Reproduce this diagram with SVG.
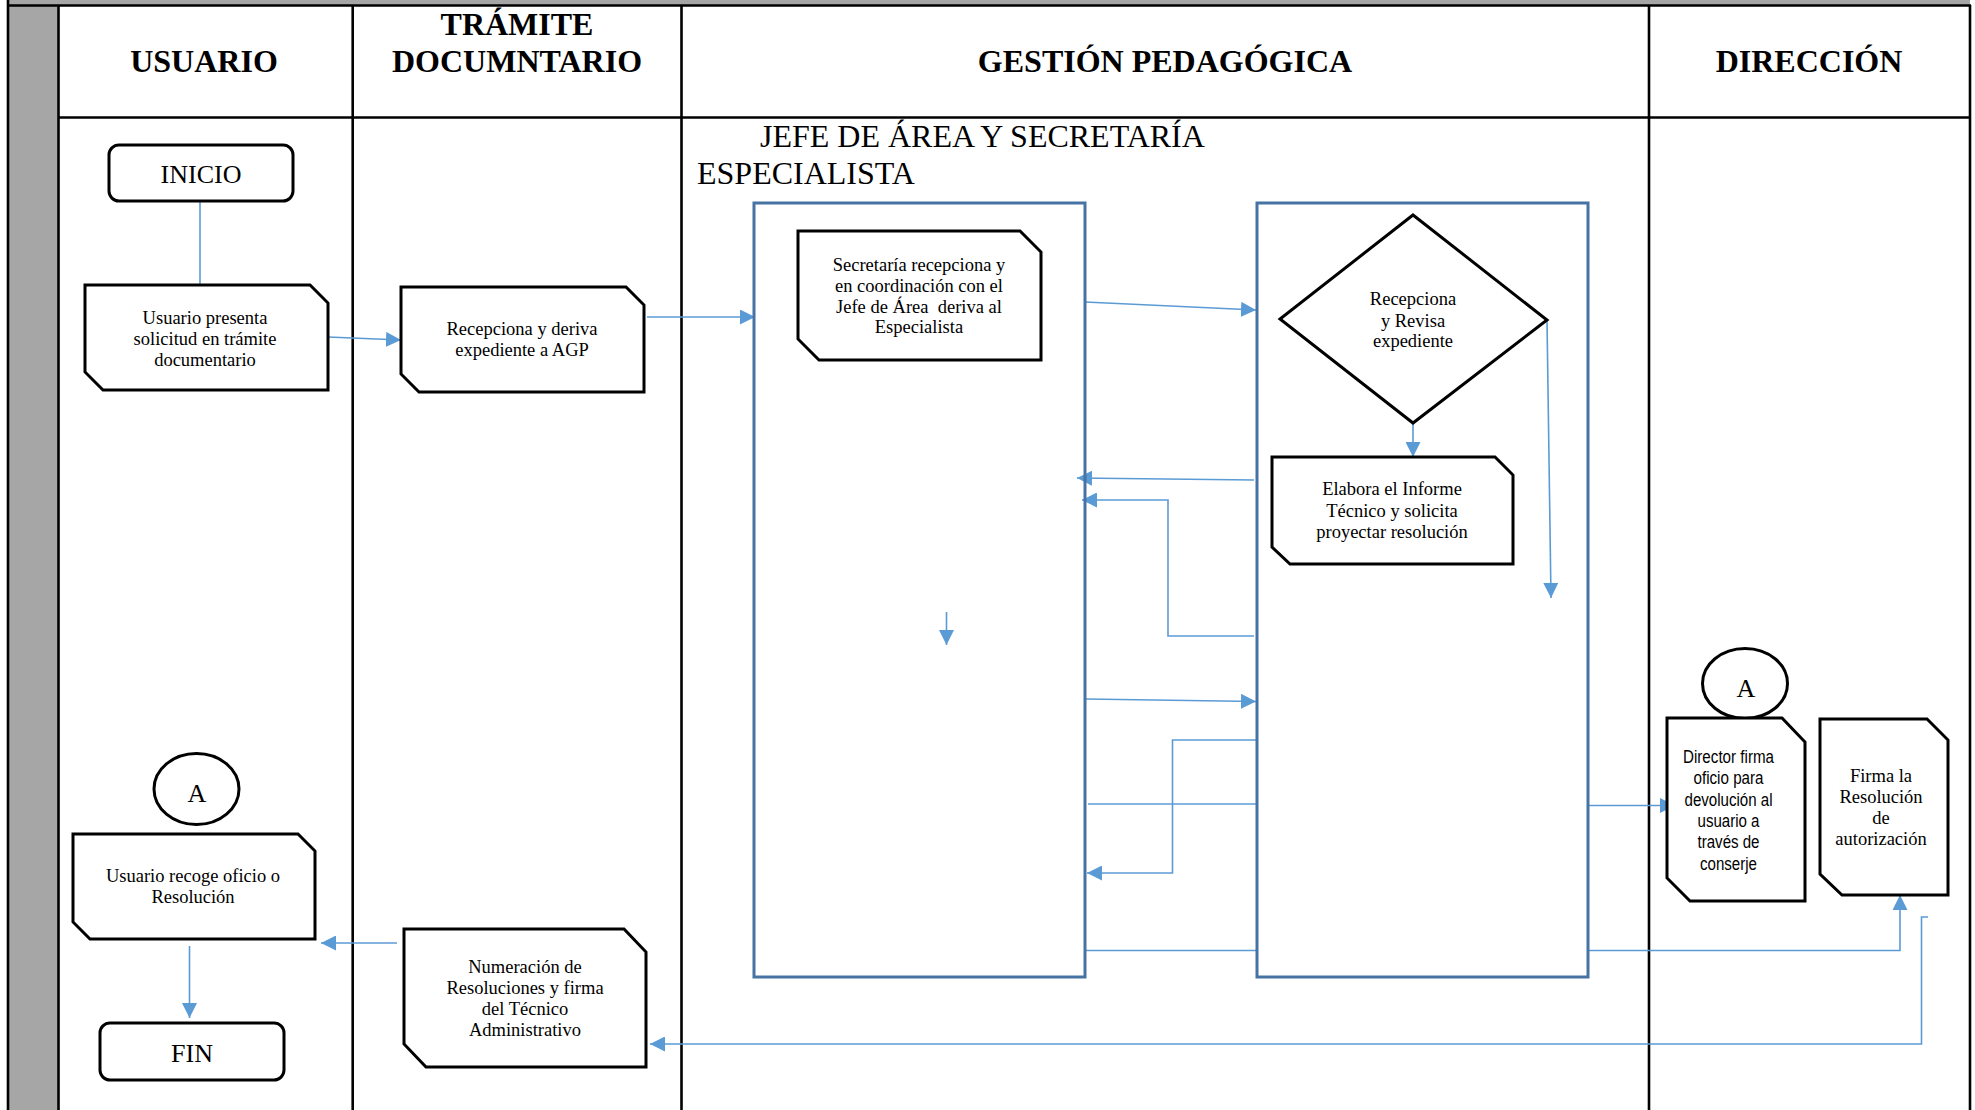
<svg xmlns="http://www.w3.org/2000/svg" width="1975" height="1110" viewBox="0 0 1975 1110">
<style>
.tbl{stroke:#000;stroke-width:2.6;fill:none}
.hd{font-family:"Liberation Serif","Times New Roman",serif;font-weight:bold;font-size:32px;text-anchor:middle;fill:#000}
.sub{font-family:"Liberation Serif","Times New Roman",serif;font-size:32px;fill:#000}
.nd{fill:#fff;stroke:#000;stroke-width:3}
.bx{fill:none;stroke:#4672a4;stroke-width:3}
.t{font-family:"Liberation Serif","Times New Roman",serif;font-size:18.5px;text-anchor:middle;fill:#000}
.tb{font-family:"Liberation Serif","Times New Roman",serif;font-size:26px;text-anchor:middle;fill:#000}
.ts{font-family:"Liberation Sans",Arial,sans-serif;font-size:17.5px;text-anchor:middle;fill:#000}
.c{fill:none;stroke:#5b9bd5;stroke-width:1.6}
</style>
<defs>
<marker id="ah" markerUnits="userSpaceOnUse" markerWidth="15" markerHeight="15" viewBox="0 0 15 15" refX="15" refY="7.5" orient="auto">
<path d="M0,0 L15,7.5 L0,15 z" fill="#5b9bd5"/>
</marker>
</defs>
<rect x="0" y="0" width="1975" height="1110" fill="#fff"/>
<g id="table">
<rect x="8" y="0" width="1962" height="6" fill="#a6a6a6"/>
<rect x="8" y="0" width="50" height="1110" fill="#a6a6a6"/>
<line class="tbl" x1="8" y1="5.5" x2="1971" y2="5.5"/>
<line class="tbl" x1="8" y1="0" x2="8" y2="1110"/>
<line class="tbl" x1="58.5" y1="5" x2="58.5" y2="1110"/>
<line class="tbl" x1="58" y1="117.5" x2="1971" y2="117.5"/>
<line class="tbl" x1="352.7" y1="5" x2="352.7" y2="1110"/>
<line class="tbl" x1="681.5" y1="5" x2="681.5" y2="1110"/>
<line class="tbl" x1="1649" y1="5" x2="1649" y2="1110"/>
<line class="tbl" x1="1970" y1="5" x2="1970" y2="1110"/>
<text class="hd" x="204" y="72">USUARIO</text>
<text class="hd" x="517" y="35">TRÁMITE</text>
<text class="hd" x="517" y="72">DOCUMNTARIO</text>
<text class="hd" x="1165" y="72">GESTIÓN PEDAGÓGICA</text>
<text class="hd" x="1809" y="72">DIRECCIÓN</text>
<text class="sub" x="760" y="147">JEFE DE ÁREA Y SECRETARÍA</text>
<text class="sub" x="697" y="184">ESPECIALISTA</text>
</g>
<g id="connectors">
<path class="c" d="M200,202 V285"/>
<path class="c" d="M328,337 L401,340" marker-end="url(#ah)"/>
<path class="c" d="M647,317 H755" marker-end="url(#ah)"/>
<path class="c" d="M1085,302 L1256,310" marker-end="url(#ah)"/>
<path class="c" d="M1413,423 V457" marker-end="url(#ah)"/>
<path class="c" d="M1547,320 L1551,598" marker-end="url(#ah)"/>
<path class="c" d="M1254,480 L1077,478" marker-end="url(#ah)"/>
<path class="c" d="M1254,636 H1168 V500 H1082" marker-end="url(#ah)"/>
<path class="c" d="M946.5,612 V645" marker-end="url(#ah)"/>
<path class="c" d="M1086,699 L1256,701.5" marker-end="url(#ah)"/>
<path class="c" d="M1256,740 H1172.5 V873 H1087" marker-end="url(#ah)"/>
<path class="c" d="M1088,804 H1256"/>
<path class="c" d="M1588,805.5 H1675" marker-end="url(#ah)"/>
<path class="c" d="M1085,950.5 H1256"/>
<path class="c" d="M1588,950.5 H1900 V895" marker-end="url(#ah)"/>
<path class="c" d="M1928,917 H1921.5 V1044 H650" marker-end="url(#ah)"/>
<path class="c" d="M397,943 H321" marker-end="url(#ah)"/>
<path class="c" d="M189.5,946 V1018" marker-end="url(#ah)"/>
</g>
<g id="box-jefe"><rect class="bx" x="754" y="203" width="331" height="774"/></g>
<g id="box-especialista"><rect class="bx" x="1257" y="203" width="331" height="774"/></g>
<g id="inicio">
<rect class="nd" x="109" y="145" width="184" height="56" rx="10"/>
<text class="tb" x="201" y="183">INICIO</text>
</g>
<g id="usuario-presenta">
<polygon class="nd" points="85,285 310,285 328,303 328,390 103,390 85,372"/>
<text class="t" x="205" y="324">Usuario presenta</text>
<text class="t" x="205" y="345">solicitud en trámite</text>
<text class="t" x="205" y="366">documentario</text>
</g>
<g id="recepciona-deriva">
<polygon class="nd" points="401,287 626,287 644,305 644,392 419,392 401,374"/>
<text class="t" x="522" y="335">Recepciona y deriva</text>
<text class="t" x="522" y="356">expediente a AGP</text>
</g>
<g id="secretaria">
<polygon class="nd" points="798,231 1020,231 1041,252 1041,360 819,360 798,339"/>
<text class="t" x="919" y="271">Secretaría recepciona y</text>
<text class="t" x="919" y="292">en coordinación con el</text>
<text class="t" x="919" y="313" xml:space="preserve">Jefe de Área  deriva al</text>
<text class="t" x="919" y="333">Especialista</text>
</g>
<g id="revisa">
<polygon class="nd" points="1413,215 1547,320 1413,423 1280,319"/>
<text class="t" x="1413" y="305">Recepciona</text>
<text class="t" x="1413" y="327">y Revisa</text>
<text class="t" x="1413" y="347">expediente</text>
</g>
<g id="elabora">
<polygon class="nd" points="1272,457 1495,457 1513,475 1513,564 1290,564 1272,547"/>
<text class="t" x="1392" y="495">Elabora el Informe</text>
<text class="t" x="1392" y="517">Técnico y solicita</text>
<text class="t" x="1392" y="538">proyectar resolución</text>
</g>
<g id="conector-a-usuario">
<ellipse class="nd" cx="196.5" cy="789" rx="42.5" ry="35.5"/>
<text class="tb" x="197" y="802">A</text>
</g>
<g id="usuario-recoge">
<polygon class="nd" points="73,834 298,834 315,851 315,939 90,939 73,922"/>
<text class="t" x="193" y="882">Usuario recoge oficio o</text>
<text class="t" x="193" y="903">Resolución</text>
</g>
<g id="fin">
<rect class="nd" x="100" y="1023" width="184" height="57" rx="10"/>
<text class="tb" x="192" y="1062">FIN</text>
</g>
<g id="numeracion">
<polygon class="nd" points="404,929 624,929 646,952 646,1067 426,1067 404,1044"/>
<text class="t" x="525" y="973">Numeración de</text>
<text class="t" x="525" y="994">Resoluciones y firma</text>
<text class="t" x="525" y="1015">del Técnico</text>
<text class="t" x="525" y="1036">Administrativo</text>
</g>
<g id="conector-a-direccion">
<ellipse class="nd" cx="1745" cy="683.5" rx="42.5" ry="35"/>
<text class="tb" x="1746" y="697">A</text>
</g>
<g id="director-firma">
<polygon class="nd" points="1667,718 1782,718 1805,742 1805,901 1690,901 1667,878"/>
<text class="ts" x="1728.5" y="763" textLength="91" lengthAdjust="spacingAndGlyphs">Director firma</text>
<text class="ts" x="1728.5" y="784" textLength="70" lengthAdjust="spacingAndGlyphs">oficio para</text>
<text class="ts" x="1728.5" y="806" textLength="88" lengthAdjust="spacingAndGlyphs">devolución al</text>
<text class="ts" x="1728.5" y="827" textLength="62" lengthAdjust="spacingAndGlyphs">usuario a</text>
<text class="ts" x="1728.5" y="848" textLength="62" lengthAdjust="spacingAndGlyphs">través de</text>
<text class="ts" x="1728.5" y="870" textLength="57" lengthAdjust="spacingAndGlyphs">conserje</text>
</g>
<g id="firma-resolucion">
<polygon class="nd" points="1820,719 1927,719 1948,740 1948,895 1842,895 1820,874"/>
<text class="t" x="1881" y="782">Firma la</text>
<text class="t" x="1881" y="803">Resolución</text>
<text class="t" x="1881" y="824">de</text>
<text class="t" x="1881" y="845">autorización</text>
</g>
</svg>
